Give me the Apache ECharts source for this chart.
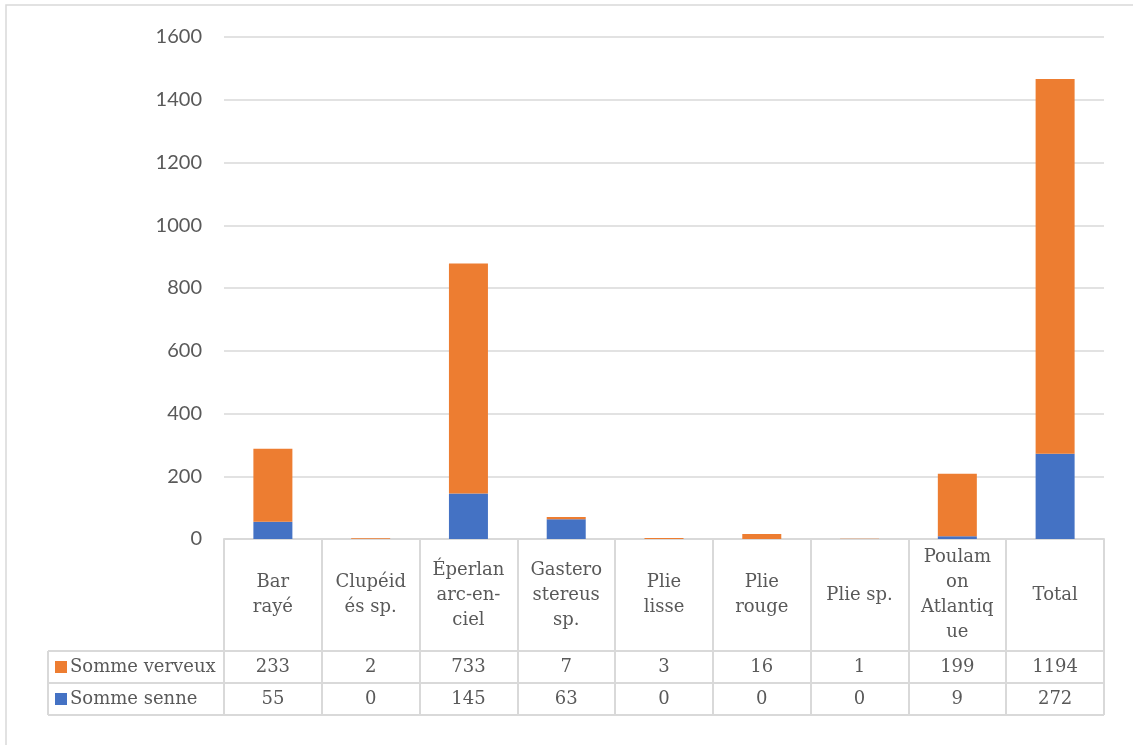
<!DOCTYPE html>
<html><head><meta charset="utf-8">
<script src="https://cdn.jsdelivr.net/npm/echarts@6/dist/echarts.min.js"></script>
<style>html,body{margin:0;padding:0;background:#fff}#c{width:1133px;height:745px}</style>
</head><body><div id="c"></div>
<script>
var categories = ['Bar rayé','Clupéidés sp.','Éperlan arc-en-ciel','Gasterostereus sp.','Plie lisse','Plie rouge','Plie sp.','Poulamon Atlantique','Total'];
var categoryLabels = ['Bar\nrayé','Clupéid\nés sp.','Éperlan\narc-en-\nciel','Gastero\nstereus\nsp.','Plie\nlisse','Plie\nrouge','Plie sp.','Poulam\non\nAtlantiq\nue','Total'];
var seriesNames = ['Somme verveux','Somme senne'];
var verveux = [233,2,733,7,3,16,1,199,1194];
var senne = [55,0,145,63,0,0,0,9,272];
var yTicks = {min:0, max:1600, interval:200};

var W = 1133, H = 745;
var gL = 224, gR = 1104, gT = 37, gB = 539;
var rowCat = 112, rowH = 32, tableLeft = 48;
var lineC = '#d9d9d9', txtC = '#595959';
var serif = 'DejaVu Serif';
var sans = 'Lato';

var chart = echarts.init(document.getElementById('c'), null, {renderer:'canvas'});
var labelMap = {};
categories.forEach(function(c,i){labelMap[c]=categoryLabels[i];});

var hideAxis = {axisLine:{show:false},axisTick:{show:false},splitLine:{show:false}};
function rowAxis(vals, offset){
  return Object.assign({
    type:'category', gridIndex:0, position:'bottom', offset:offset,
    data: vals.map(String),
    axisLabel:{interval:0, margin:rowH/2, verticalAlign:'middle', fontFamily:serif, fontSize:18, color:txtC}
  }, hideAxis);
}

var tb = gB + rowCat;
var graphics = [
  {type:'rect', shape:{x:6,y:5,width:W+20,height:H+20}, style:{fill:'none',stroke:lineC,lineWidth:1.5}, silent:true},
  {type:'line', shape:{x1:tableLeft,y1:tb,x2:gR,y2:tb}, style:{stroke:lineC,lineWidth:2}},
  {type:'line', shape:{x1:tableLeft,y1:tb+rowH,x2:gR,y2:tb+rowH}, style:{stroke:lineC,lineWidth:2}},
  {type:'line', shape:{x1:tableLeft,y1:tb+2*rowH,x2:gR,y2:tb+2*rowH}, style:{stroke:lineC,lineWidth:2}},
  {type:'line', shape:{x1:tableLeft,y1:tb,x2:tableLeft,y2:tb+2*rowH}, style:{stroke:lineC,lineWidth:2}}
];

chart.setOption({
  animation:false,
  backgroundColor:'#fff',
  grid:{left:gL, right:W-gR, top:gT, bottom:H-gB, containLabel:false},
  legend:{
    orient:'vertical', left:55, top:tb+5, itemGap:10, itemWidth:12, itemHeight:12, padding:0,
    icon:'rect', data:seriesNames,
    textStyle:{fontFamily:serif, fontSize:18, color:txtC, lineHeight:22, padding:[0,0,0,-2]}
  },
  xAxis:[
    {type:'category', data:categories, position:'bottom',
     axisLine:{show:true, lineStyle:{color:lineC, width:2}},
     axisTick:{show:true, interval:0, length:rowCat+2*rowH, lineStyle:{color:lineC, width:2}},
     axisLabel:{interval:0, margin:rowCat/2, verticalAlign:'middle', fontFamily:serif, fontSize:18, lineHeight:25, color:txtC,
       formatter:function(v){return labelMap[v];}},
     splitLine:{show:false}},
    rowAxis(verveux, rowCat),
    rowAxis(senne, rowCat+rowH)
  ],
  yAxis:{type:'value', min:yTicks.min, max:yTicks.max, interval:yTicks.interval,
    axisLine:{show:false}, axisTick:{show:false},
    axisLabel:{fontFamily:sans, fontSize:20, color:txtC, margin:22, formatter:function(v){return String(v);}},
    splitLine:{lineStyle:{color:lineC, width:1.5}}},
  series:[
    {name:'Somme senne', type:'bar', stack:'s', data:senne, barWidth:39, itemStyle:{color:'#4472C4'}},
    {name:'Somme verveux', type:'bar', stack:'s', data:verveux, barWidth:39, itemStyle:{color:'#ED7D31'}}
  ],
  graphic:graphics
});
</script></body></html>
